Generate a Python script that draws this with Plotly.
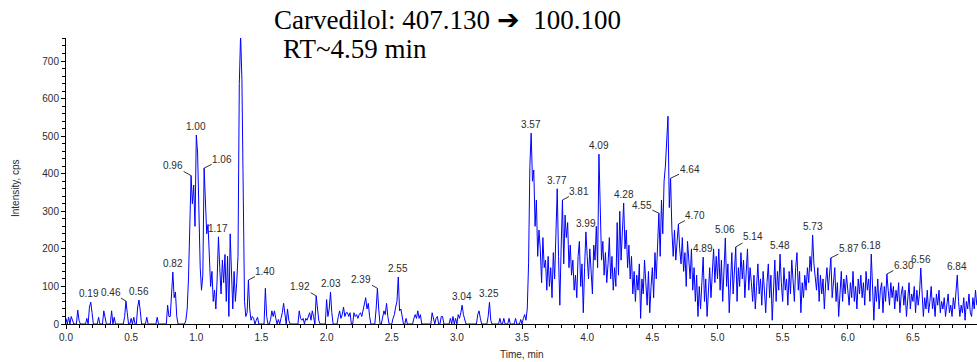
import numpy as np
import plotly.graph_objects as go

# MRM chromatogram of carvedilol (407.130 -> 100.100), sampled every 0.01 min
intensity_min0 = [
    15, 0, 18, 0, 20, 12, 0, 0, 0, 37,
    10, 0, 0, 0, 0, 0, 15, 0, 45, 58,
    30, 0, 0, 0, 0, 18, 0, 0, 0, 35,
    15, 0, 0, 0, 0, 35, 0, 18, 0, 0,
    0, 0, 0, 0, 0, 20, 61, 30, 0, 0,
    15, 0, 18, 0, 0, 45, 64, 35, 0, 0,
    0, 0, 18, 0, 0, 0, 0, 0, 0, 0,
    18, 0, 0, 0, 0, 0, 0, 0, 50, 20,
    20, 95, 138, 70, 85, 20, 0, 0, 0, 0,
    0, 0, 10, 40, 120, 270, 395, 320, 370, 260,
]
intensity_min1 = [
    503, 455, 250, 150, 90, 130, 415, 300, 240, 265,
    180, 100, 140, 60, 90, 40, 120, 232, 150, 80,
    170, 110, 185, 60, 180, 20, 240, 120, 40, 140,
    60, 110, 180, 640, 770, 650, 280, 60, 20, 30,
    117, 40, 10, 20, 15, 0, 10, 18, 0, 0,
    0, 0, 0, 95, 20, 0, 0, 12, 35, 20,
    35, 15, 0, 12, 0, 15, 30, 55, 20, 0,
    40, 10, 0, 0, 0, 0, 0, 0, 0, 35,
    15, 10, 15, 0, 15, 10, 20, 30, 10, 35,
    20, 0, 75, 30, 10, 0, 0, 0, 0, 0,
]
intensity_min2 = [
    65, 20, 40, 85, 30, 0, 0, 0, 0, 20,
    35, 15, 25, 45, 20, 30, 30, 20, 30, 0,
    0, 30, 20, 25, 15, 25, 30, 20, 35, 50,
    70, 40, 55, 20, 0, 0, 0, 0, 40, 95,
    40, 0, 0, 20, 35, 25, 55, 20, 0, 0,
    0, 15, 25, 45, 60, 125, 35, 40, 20, 0,
    0, 15, 0, 0, 0, 0, 0, 15, 25, 15,
    35, 15, 25, 0, 0, 0, 0, 0, 0, 0,
    0, 30, 15, 0, 15, 20, 0, 0, 20, 20,
    0, 0, 0, 0, 0, 15, 0, 20, 0, 15,
]
intensity_min3 = [
    0, 25, 15, 30, 50, 25, 15, 0, 0, 0,
    0, 0, 0, 0, 0, 0, 25, 35, 15, 0,
    0, 0, 0, 0, 20, 58, 10, 0, 0, 0,
    0, 0, 0, 15, 0, 0, 15, 0, 0, 0,
    15, 0, 0, 0, 0, 15, 0, 0, 0, 12,
    0, 15, 25, 10, 40, 160, 420, 508, 380, 410,
    260, 330, 180, 250, 200, 110, 230, 150, 170, 90,
    180, 100, 150, 70, 190, 120, 220, 360, 180, 50,
    200, 330, 160, 290, 230, 270, 150, 210, 130, 170,
    90, 130, 70, 180, 220, 100, 160, 30, 150, 245,
]
intensity_min4 = [
    180, 120, 200, 140, 80, 210, 170, 260, 150, 452,
    300, 170, 220, 130, 190, 110, 160, 230, 120, 180,
    90, 150, 100, 270, 130, 300, 170, 240, 322, 200,
    250, 150, 210, 120, 180, 80, 140, 60, 130, 90,
    160, 15, 120, 80, 170, 110, 50, 140, 30, 100,
    150, 70, 190, 120, 230, 295, 180, 330, 240, 380,
    420, 480, 553, 310, 388, 250, 180, 250, 170, 220,
    266, 200, 160, 230, 140, 190, 100, 220, 160, 120,
    200, 90, 150, 60, 130, 20, 100, 40, 110, 178,
    60, 120, 20, 90, 150, 70, 130, 200, 110, 180,
]
intensity_min5 = [
    120, 200, 90, 170, 60, 150, 229, 100, 160, 30,
    120, 190, 80, 140, 205, 60, 150, 100, 190, 120,
    170, 70, 140, 200, 90, 150, 110, 60, 130, 40,
    100, 160, 80, 120, 50, 140, 90, 30, 110, 160,
    70, 130, 10, 100, 170, 60, 140, 90, 186, 110,
    60, 150, 90, 120, 50, 140, 80, 170, 110, 60,
    150, 190, 90, 140, 30, 110, 70, 130, 90, 150,
    110, 180, 140, 237, 160, 120, 90, 150, 60, 130,
    80, 120, 40, 110, 150, 90, 130, 176, 70, 120,
    150, 60, 110, 20, 100, 140, 60, 120, 80, 130,
]
intensity_min6 = [
    90, 50, 110, 70, 140, 60, 100, 40, 120, 80,
    130, 70, 110, 50, 140, 90, 120, 60, 186, 80,
    10, 100, 60, 120, 40, 90, 110, 30, 100, 60,
    133, 90, 50, 110, 70, 100, 40, 90, 60, 110,
    30, 80, 100, 50, 90, 20, 70, 110, 40, 80,
    60, 100, 30, 90, 50, 80, 149, 60, 20, 70,
    40, 90, 30, 60, 100, 40, 70, 20, 80, 50,
    90, 30, 60, 40, 70, 20, 60, 80, 30, 50,
    20, 70, 40, 90, 130, 60, 20, 50, 30, 70,
    10, 60, 40, 80, 30, 20, 70, 40, 90, 50,
]

# Retention times of the annotated peaks (min)
peak_times = [0.19, 0.46, 0.56, 0.82, 0.96, 1.00, 1.06, 1.17, 1.40, 1.92,
              2.03, 2.39, 2.55, 3.04, 3.25, 3.57, 3.77, 3.81, 3.99, 4.09,
              4.28, 4.55, 4.64, 4.70, 4.89, 5.06, 5.14, 5.48, 5.73, 5.87,
              6.18, 6.30, 6.56, 6.84]

x_ticks = [0.0, 0.5, 1.0, 1.5, 2.0, 2.5, 3.0, 3.5, 4.0, 4.5, 5.0, 5.5, 6.0, 6.5]
y_ticks = [0, 100, 200, 300, 400, 500, 600, 700]

intensity = np.array(intensity_min0 + intensity_min1 + intensity_min2 + intensity_min3
                     + intensity_min4 + intensity_min5 + intensity_min6, dtype=float)
time = np.round(np.arange(len(intensity)) * 0.01, 2)

# labels drawn off to one side with a short leader line (pixel offsets)
leader_offsets = {
    0.46: (-15, -9), 0.96: (-18, -10), 1.06: (18, -9), 1.40: (17, -9),
    1.92: (-16, -9), 2.39: (-16, -9), 3.81: (17, -9), 4.55: (-17, -8),
    4.64: (19, -9), 4.70: (17, -9), 5.14: (17, -10), 5.87: (18, -9),
    6.30: (17, -9),
}

label_font = dict(family="Liberation Sans, Arial, sans-serif", size=10, color="#2b2b2b")

fig = go.Figure()
fig.add_trace(go.Scatter(
    x=time, y=intensity, mode="lines",
    line=dict(color="#0000ff", width=1),
    hoverinfo="skip", showlegend=False,
))

annotations = []
for t in peak_times:
    idx = int(round(t / 0.01))
    y = float(intensity[idx])
    text = f"{t:.2f}"
    if t in leader_offsets:
        ax, ay = leader_offsets[t]
        annotations.append(dict(
            x=time[idx], y=y, xref="x", yref="y", text=text,
            showarrow=True, arrowhead=0, arrowwidth=1, arrowcolor="#333333",
            ax=ax, ay=ay, standoff=0, borderpad=0, font=label_font,
        ))
    else:
        # the 0.19 label sits a little left so it clears its neighbour
        shift = -2 if t == 0.19 else 0
        annotations.append(dict(
            x=time[idx], y=y, xref="x", yref="y", text=text,
            showarrow=False, yanchor="bottom", yshift=1, xshift=shift, font=label_font,
        ))

title_font = dict(family="Liberation Serif, Times New Roman, serif", size=27, color="#000000")
annotations += [
    dict(x=(272 - 66) / 911, y=(324 - 37) / 286, xref="paper", yref="paper",
         text="Carvedilol: 407.130 \u2794  100.100", showarrow=False,
         xanchor="left", yanchor="bottom", font=title_font),
    dict(x=(281 - 66) / 911, y=(324 - 66) / 286, xref="paper", yref="paper",
         text="RT~4.59 min", showarrow=False,
         xanchor="left", yanchor="bottom", font=title_font),
    dict(x=(15 - 66) / 911, y=(324 - 188) / 286, xref="paper", yref="paper",
         text="Intensity, cps", textangle=-90, showarrow=False,
         xanchor="center", yanchor="middle", font=label_font),
    dict(x=(522 - 66) / 911, y=(324 - 354) / 286, xref="paper", yref="paper",
         text="Time, min", showarrow=False,
         xanchor="center", yanchor="middle", font=label_font),
]

axis_common = dict(
    showgrid=False, zeroline=False, showline=True, linecolor="#000000", linewidth=1,
    ticks="outside", ticklen=4, tickcolor="#000000", tickwidth=1,
    tickfont=dict(family="Liberation Sans, Arial, sans-serif", size=10, color="#2b2b2b"),
)

fig.update_layout(
    width=977, height=362,
    margin=dict(l=66, r=0, t=38, b=38),
    paper_bgcolor="white", plot_bgcolor="white",
    xaxis=dict(range=[0, 911 / 130.3], tickvals=x_ticks, tickformat=".1f",
               minor=dict(dtick=0.1, tick0=0, ticks="outside", ticklen=3, tickcolor="#000000"),
               **axis_common),
    yaxis=dict(range=[0, 286 / 0.3757], tickvals=y_ticks,
               minor=dict(dtick=20, tick0=0, ticks="outside", ticklen=3, tickcolor="#000000"),
               **axis_common),
    annotations=annotations,
)

fig.write_html("out.html")
